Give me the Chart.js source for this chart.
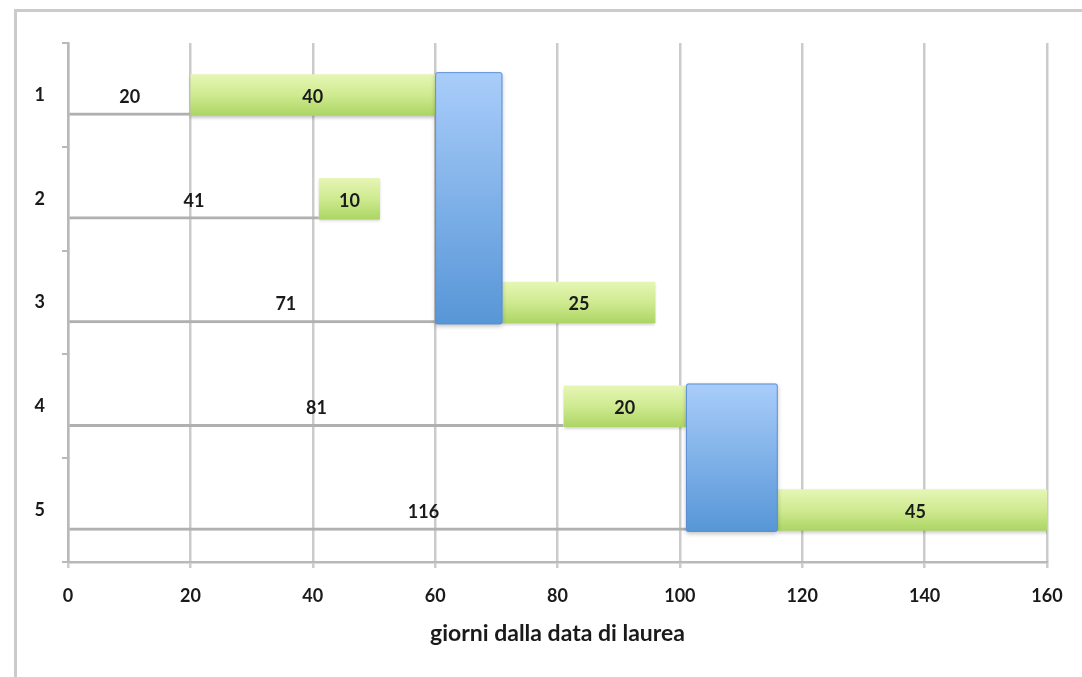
<!DOCTYPE html>
<html>
<head>
<meta charset="utf-8">
<title>giorni dalla data di laurea</title>
<script src="https://cdn.jsdelivr.net/npm/chart.js@4/dist/chart.umd.min.js"></script>
<style>
  html, body { margin: 0; padding: 0; background: #ffffff; }
  #wrap { position: relative; width: 1082px; height: 677px; overflow: hidden; }
  #frame { position: absolute; left: 14px; top: 9px; right: -10px; bottom: -10px;
           border-top: 3px solid #cbcbcb; border-left: 3px solid #cbcbcb; }
  canvas { position: absolute; left: 0; top: 0; }
</style>
</head>
<body>
<div id="wrap">
  <div id="frame"></div>
  <canvas id="chart" width="1082" height="677"></canvas>
</div>
<script>
// Rows (one per graduate) and their timelines, in days after graduation
const categories   = ['1', '2', '3', '4', '5'];
const startDays    = [20, 41, 71, 81, 116];   // waiting time before the green phase
const durationDays = [40, 10, 25, 20, 45];    // length of the green phase
const xTickValues  = [0, 20, 40, 60, 80, 100, 120, 140, 160];

// Blue blocks spanning several rows: day range and first/last row index
const blockFrom     = [60, 101];
const blockTo       = [71, 116];
const blockFirstRow = [0, 3];
const blockLastRow  = [2, 4];

const axisTitle = 'giorni dalla data di laurea';

const BAR_FRACTION = 0.4;
const FONT = 'Lato, "Open Sans", sans-serif';
const TEXT_COLOR = '#1a1a1a';

function greenFill(context) {
  const chart = context.chart;
  const y = chart.scales && chart.scales.y;
  if (!y || context.dataIndex === undefined || !isFinite(y.top)) return '#c8e68a';
  const c = y.getPixelForValue(context.dataIndex);
  const h = (y.bottom - y.top) / categories.length * BAR_FRACTION / 2;
  const g = chart.ctx.createLinearGradient(0, c - h, 0, c + h);
  g.addColorStop(0, '#e6f6b6');
  g.addColorStop(0.5, '#cfea90');
  g.addColorStop(1, '#acd564');
  return g;
}

// Drop shadow under the green bars
const barShadow = {
  id: 'barShadow',
  beforeDatasetDraw(chart, args) {
    if (args.index !== 1) return;
    const ctx = chart.ctx;
    ctx.save();
    ctx.shadowColor = 'rgba(0,0,0,0.22)';
    ctx.shadowBlur = 3;
    ctx.shadowOffsetY = 2;
  },
  afterDatasetDraw(chart, args) {
    if (args.index !== 1) return;
    chart.ctx.restore();
  }
};

// Blue multi-row blocks and value labels
const overlays = {
  id: 'overlays',
  afterDatasetsDraw(chart) {
    const ctx = chart.ctx;
    const xs = chart.scales.x;
    const green = chart.getDatasetMeta(1).data;

    blockFrom.forEach((from, i) => {
      const x0 = xs.getPixelForValue(from);
      const x1 = xs.getPixelForValue(blockTo[i]);
      const a = green[blockFirstRow[i]];
      const b = green[blockLastRow[i]];
      const top = a.y - a.height / 2 - 2;
      const bottom = b.y + b.height / 2 + 1;
      ctx.save();
      const g = ctx.createLinearGradient(0, top, 0, bottom);
      g.addColorStop(0, '#a9cdfa');
      g.addColorStop(1, '#5796d7');
      ctx.shadowColor = 'rgba(0,0,0,0.25)';
      ctx.shadowBlur = 4;
      ctx.shadowOffsetY = 2;
      ctx.fillStyle = g;
      ctx.beginPath();
      ctx.roundRect(x0, top, x1 - x0, bottom - top, 2);
      ctx.fill();
      ctx.shadowColor = 'transparent';
      ctx.strokeStyle = 'rgba(90,140,210,0.9)';
      ctx.lineWidth = 1;
      ctx.beginPath();
      ctx.roundRect(x0 + 0.5, top + 0.5, x1 - x0 - 1, bottom - top - 1, 2);
      ctx.stroke();
      ctx.restore();
    });

    ctx.save();
    ctx.font = 'bold 18px ' + FONT;
    ctx.fillStyle = TEXT_COLOR;
    ctx.textAlign = 'center';
    ctx.textBaseline = 'middle';
    chart.getDatasetMeta(0).data.forEach((el, i) => {
      ctx.fillText(String(startDays[i]), (el.x + el.base) / 2, el.y + 2);
    });
    green.forEach((el, i) => {
      ctx.fillText(String(durationDays[i]), (el.x + el.base) / 2, el.y + 2);
    });
    ctx.restore();
  }
};

new Chart(document.getElementById('chart'), {
  type: 'bar',
  data: {
    labels: categories,
    datasets: [
      {
        label: 'attesa',
        data: startDays,
        backgroundColor: 'rgba(0,0,0,0)',
        borderColor: '#b0b0b0',
        borderWidth: { top: 0, right: 0, bottom: 3, left: 0 },
        borderSkipped: false
      },
      {
        label: 'durata',
        data: durationDays,
        backgroundColor: greenFill,
        borderWidth: 0
      }
    ]
  },
  options: {
    indexAxis: 'y',
    responsive: false,
    animation: false,
    devicePixelRatio: 1,
    categoryPercentage: 1,
    barPercentage: BAR_FRACTION,
    layout: { padding: { top: 43, right: 35, left: 0, bottom: 0 } },
    plugins: {
      legend: { display: false },
      tooltip: { enabled: false },
      title: { display: false }
    },
    scales: {
      x: {
        stacked: true,
        min: 0,
        max: 160,
        afterBuildTicks(scale) { scale.ticks = xTickValues.map(v => ({ value: v })); },
        afterFit(scale) { scale.height = 115; },
        grid: { color: '#cbcbcb', lineWidth: 2.5, tickLength: 6 },
        border: { display: true, color: '#b9b9b9', width: 2.5 },
        ticks: { color: TEXT_COLOR, font: { family: FONT, size: 18, weight: 'bold' }, padding: 17 },
        title: {
          display: true,
          text: axisTitle,
          color: TEXT_COLOR,
          font: { family: FONT, size: 23, weight: 'bold' },
          padding: { top: 0, bottom: 30 }
        }
      },
      y: {
        stacked: true,
        afterFit(scale) { scale.width = 68; },
        grid: { drawOnChartArea: false, color: '#b9b9b9', lineWidth: 2, tickLength: 6 },
        border: { display: true, color: '#b9b9b9', width: 2.5 },
        ticks: { color: TEXT_COLOR, font: { family: FONT, size: 18, weight: 'bold' }, padding: 17 }
      }
    }
  },
  plugins: [barShadow, overlays]
});
</script>
</body>
</html>
